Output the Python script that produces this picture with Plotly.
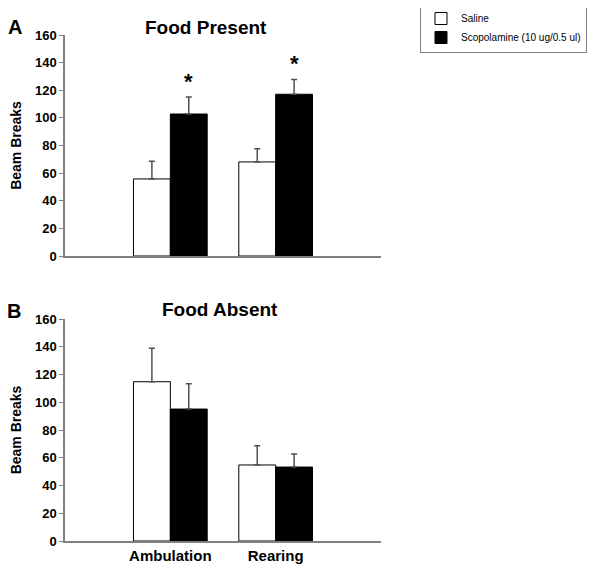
import plotly.graph_objects as go

# ---- data ----
categories = ["Ambulation", "Rearing"]
cat_pos = [1, 2]
series_names = ["Saline", "Scopolamine (10 ug/0.5 ul)"]

present_saline = [55.8, 68.1]
present_saline_err = [12.8, 9.6]
present_scop = [102.8, 117.1]
present_scop_err = [12.3, 10.6]

absent_saline = [114.8, 54.8]
absent_saline_err = [24.1, 13.9]
absent_scop = [95.1, 53.3]
absent_scop_err = [18.3, 9.4]

present_sig = [False, True, False, True]  # saline amb, scop amb, saline rear, scop rear
y_ticks = [0, 20, 40, 60, 80, 100, 120, 140, 160]

FONT = "Arial, Liberation Sans, sans-serif"
ERRC = "#505050"
AXC = "#808080"

# page body has an 8px margin; work in screenshot pixels and subtract it
OFF = 8
W, H = 600 - OFF, 567 - OFF
L = 65 - OFF
R = W - (381 - OFF)
T = 35 - OFF
B = H - (541 - OFF)
pw, ph = W - L - R, H - T - B

def px_x(x):
    return (x - OFF - L) / pw

def px_y(y):
    return (H - B - (y - OFF)) / ph

fig = go.Figure()

def add_pair(sal, sal_err, scop, scop_err, xa, ya, show):
    fig.add_trace(go.Bar(
        x=cat_pos, y=sal, name=series_names[0], xaxis=xa, yaxis=ya,
        marker=dict(color="white", line=dict(color="black", width=1)),
        error_y=dict(type="data", array=sal_err, arrayminus=[0]*len(sal),
                     symmetric=False, color=ERRC, thickness=1.5, width=3),
        showlegend=show, legendgroup="s"))
    fig.add_trace(go.Bar(
        x=cat_pos, y=scop, name=series_names[1], xaxis=xa, yaxis=ya,
        marker=dict(color="black", line=dict(color="black", width=1)),
        error_y=dict(type="data", array=scop_err, arrayminus=[0]*len(scop),
                     symmetric=False, color=ERRC, thickness=1.5, width=3),
        showlegend=show, legendgroup="c"))

add_pair(present_saline, present_saline_err, present_scop, present_scop_err, "x", "y", True)
add_pair(absent_saline, absent_saline_err, absent_scop, absent_scop_err, "x2", "y2", False)

annotations = []
for i, p in enumerate(cat_pos):
    if present_sig[2 * i + 1]:
        top = present_scop[i] + present_scop_err[i]
        annotations.append(dict(x=p + 0.175, y=top + 1, xref="x", yref="y",
                                text="<b>*</b>", showarrow=False,
                                font=dict(family=FONT, size=22, color="black"),
                                yanchor="bottom"))

for txt, x, y, size in [("<b>Food Present</b>", 206, 27, 19),
                        ("<b>Food Absent</b>", 220, 309, 19),
                        ("<b>A</b>", 15, 27, 20),
                        ("<b>B</b>", 14, 311, 20)]:
    annotations.append(dict(x=px_x(x), y=px_y(y), xref="paper", yref="paper",
                            text=txt, showarrow=False, xanchor="center", yanchor="middle",
                            font=dict(family=FONT, size=size, color="black")))

yax = dict(range=[0, 160], tickvals=y_ticks, showgrid=False, zeroline=False,
           showline=True, linecolor=AXC, linewidth=1.5, ticks="outside", ticklen=4,
           tickcolor=AXC, tickfont=dict(family=FONT, size=13, color="black", weight="bold"),
           title=dict(text="<b>Beam Breaks</b>", font=dict(family=FONT, size=14, color="black"),
                      standoff=17))
xax = dict(range=[0, 3], showgrid=False, zeroline=False, showline=True,
           linecolor=AXC, linewidth=1.5, ticks="")

fig.update_layout(
    width=W, height=H,
    margin=dict(l=L, r=R, t=T, b=B, autoexpand=False),
    paper_bgcolor="white", plot_bgcolor="white",
    barmode="group", bargap=0.3, bargroupgap=0,
    xaxis=dict(xax, domain=[0, 1], anchor="y", showticklabels=False),
    yaxis=dict(yax, domain=[px_y(256), 1], anchor="x"),
    xaxis2=dict(xax, domain=[0, 1], anchor="y2", tickvals=cat_pos,
                ticktext=["<b>%s</b>" % c for c in categories],
                tickfont=dict(family=FONT, size=15, color="black")),
    yaxis2=dict(yax, domain=[0, px_y(319)], anchor="x2"),
    legend=dict(x=px_x(420), y=px_y(3), xanchor="left", yanchor="top",
                bordercolor="#808080", borderwidth=1, bgcolor="white",
                font=dict(family=FONT, size=10, color="black"),
                itemwidth=30, tracegroupgap=0),
    annotations=annotations,
    showlegend=True,
)

fig.write_html("out.html")
